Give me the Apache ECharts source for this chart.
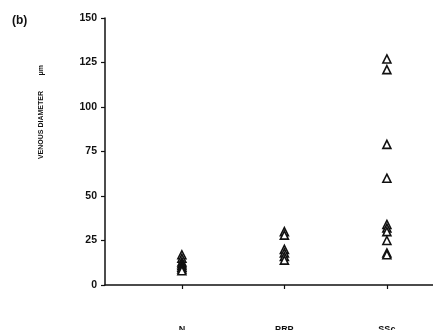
<!DOCTYPE html>
<html>
<head>
<meta charset="utf-8">
<script src="https://cdn.jsdelivr.net/npm/echarts@6/dist/echarts.min.js"></script>
<style>
  html, body { margin: 0; padding: 0; background: #fff; }
  #chart { width: 433px; height: 330px; }
</style>
</head>
<body>
<div id="chart"></div>
<script>
// groups along the x axis
const categories = ["N", "PRP", "SSc"];
// venous diameter readings (um) per group
const nValues = [17, 15, 13, 12, 11, 10, 9, 8];
const prpValues = [30, 28, 20, 18, 16, 14];
const sscValues = [127, 121, 79, 60, 34, 32, 30, 25, 18, 17];
const yTicks = [0, 25, 50, 75, 100, 125, 150];

const groups = [nValues, prpValues, sscValues];
var points = [];
groups.forEach(function (vals, i) {
  vals.forEach(function (v) {
    points.push([i + 1, v]);
  });
});

var chart = echarts.init(document.getElementById("chart"));
chart.setOption({
  animation: false,
  title: {
    text: "(b)",
    left: 7,
    top: 10,
    textStyle: { fontFamily: "Liberation Sans", fontSize: 12, fontWeight: "bold", color: "#111" }
  },
  graphic: [
    {
      type: "text",
      x: 41,
      y: 112,
      rotation: Math.PI / 2,
      style: {
        text: "VENOUS DIAMETER        \u03bcm",
        font: "bold 7px Liberation Sans",
        fill: "#111",
        align: "center",
        verticalAlign: "middle"
      }
    }
  ],
  grid: {
    left: 105,
    right: 0,
    top: 18,
    bottom: 45,
    containLabel: false,
    outerBoundsMode: "none"
  },
  xAxis: {
    type: "value",
    min: 0.25,
    max: 3.45,
    splitLine: { show: false },
    axisLine: { show: true, onZero: false, lineStyle: { color: "#111", width: 1.5 } },
    axisTick: {
      show: true,
      customValues: [1, 2, 3],
      length: 4,
      lineStyle: { color: "#111", width: 1.2 }
    },
    axisLabel: {
      customValues: [1, 2, 3],
      margin: 40,
      fontFamily: "Liberation Sans",
      fontSize: 9,
      fontWeight: "bold",
      color: "#111",
      formatter: function (v) { return categories[Math.round(v) - 1] || ""; }
    }
  },
  yAxis: {
    type: "value",
    min: yTicks[0],
    max: yTicks[yTicks.length - 1],
    interval: 25,
    splitLine: { show: false },
    axisLine: { show: true, lineStyle: { color: "#111", width: 1.5 } },
    axisTick: { show: true, length: 4, lineStyle: { color: "#111", width: 1.2 } },
    axisLabel: {
      margin: 8,
      fontFamily: "Liberation Sans",
      fontSize: 10.5,
      fontWeight: "bold",
      color: "#111"
    }
  },
  series: [
    {
      type: "scatter",
      symbol: "triangle",
      symbolSize: 8,
      data: points,
      itemStyle: { color: "#fff", borderColor: "#111", borderWidth: 1.6, opacity: 1 }
    }
  ]
});
</script>
</body>
</html>
